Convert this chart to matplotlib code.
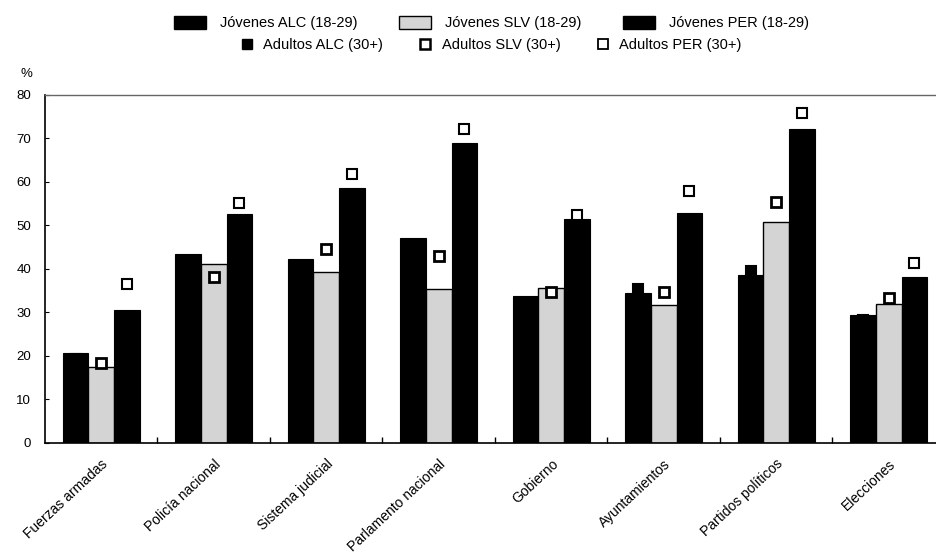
import matplotlib
matplotlib.use("Agg")
import matplotlib.pyplot as plt
import numpy as np
from matplotlib.patches import Patch
from matplotlib.lines import Line2D
from matplotlib.ticker import FixedLocator

categories = ["Fuerzas armadas", "Policía nacional", "Sistema judicial", "Parlamento nacional",
              "Gobierno", "Ayuntamientos", "Partidos políticos", "Elecciones"]
jov_alc = [20.6, 43.4, 42.2, 47.1, 33.8, 34.5, 38.6, 29.4]
jov_slv = [17.5, 41.1, 39.2, 35.4, 35.7, 31.7, 50.9, 32.0]
jov_per = [30.6, 52.6, 58.7, 68.9, 51.6, 52.9, 72.1, 38.2]
adu_alc = [19.4, 41.0, 40.5, 45.0, 32.0, 35.3, 39.5, 28.2]
adu_slv = [18.5, 38.2, 44.5, 43.0, 34.7, 34.8, 55.3, 33.3]
adu_per = [36.5, 55.2, 61.8, 72.1, 52.4, 58.0, 75.8, 41.3]
yticks = [0, 10, 20, 30, 40, 50, 60, 70, 80]

plt.rcParams['font.family'] = ['Liberation Sans', 'DejaVu Sans']

fig = plt.figure(figsize=(9.36, 5.57), dpi=100)
ax = fig.add_axes([0.048, 0.2047, 0.952, 0.6248])

x = np.arange(len(categories))
w = 0.228
gray = '#d4d4d4'
ax.bar(x - w, jov_alc, w, color='black', edgecolor='black', linewidth=0.8, zorder=2)
ax.bar(x, jov_slv, w, color=gray, edgecolor='black', linewidth=1.0, zorder=2)
ax.bar(x + w, jov_per, w, color='black', edgecolor='black', linewidth=0.8, zorder=2)

ms = 7.5
ax.plot(x - w, adu_alc, 's', ms=ms, mfc='black', mec='black', mew=1.5, ls='none', zorder=3)
ax.plot(x, adu_slv, 's', ms=ms, mfc='white', mec='black', mew=2.0, ls='none', zorder=3)
ax.plot(x + w, adu_per, 's', ms=ms, mfc='white', mec='black', mew=1.5, ls='none', zorder=3)

ax.set_xlim(-0.5, 7.42)
ax.set_ylim(0, 80)
ax.set_yticks(yticks)
ax.tick_params(axis='y', direction='in', length=3, labelsize=9.5, pad=10)
ax.set_xticks(x)
ax.set_xticklabels(categories, rotation=43, ha='right', rotation_mode='anchor', fontsize=10)
ax.tick_params(axis='x', length=0, pad=10)
ax.xaxis.set_minor_locator(FixedLocator(x[:-1] + 0.5))
ax.tick_params(axis='x', which='minor', direction='in', length=4, width=1)

for s in ['left', 'bottom']:
    ax.spines[s].set_linewidth(1.2)
    ax.spines[s].set_color('black')
ax.spines['top'].set_color('#666666')
ax.spines['top'].set_linewidth(1.0)
ax.spines['right'].set_visible(False)

fig.text(0.022, 0.862, '%', fontsize=9.5)

h1 = [Patch(facecolor='black', edgecolor='black'),
      Patch(facecolor=gray, edgecolor='black'),
      Patch(facecolor='black', edgecolor='black')]
l1 = ["Jóvenes ALC (18-29)", "Jóvenes SLV (18-29)", "Jóvenes PER (18-29)"]
h2 = [Line2D([], [], marker='s', ms=7.5, mfc='black', mec='black', ls='none'),
      Line2D([], [], marker='s', ms=7.5, mfc='white', mec='black', mew=1.8, ls='none'),
      Line2D([], [], marker='s', ms=7.5, mfc='white', mec='black', mew=1.3, ls='none')]
l2 = ["Adultos ALC (30+)", "Adultos SLV (30+)", "Adultos PER (30+)"]

leg1 = fig.legend(h1, l1, ncol=3, loc='center', bbox_to_anchor=(0.525, 0.959), frameon=False,
                  fontsize=10.5, handlelength=2.2, handleheight=1.0, columnspacing=2.8, handletextpad=1.0,
                  borderpad=0, borderaxespad=0)
leg2 = fig.legend(h2, l2, ncol=3, loc='center', bbox_to_anchor=(0.524, 0.919), frameon=False,
                  fontsize=10.5, handlelength=1.0, columnspacing=2.4, handletextpad=0.6,
                  borderpad=0, borderaxespad=0)

fig.savefig('out.png', dpi=100)
